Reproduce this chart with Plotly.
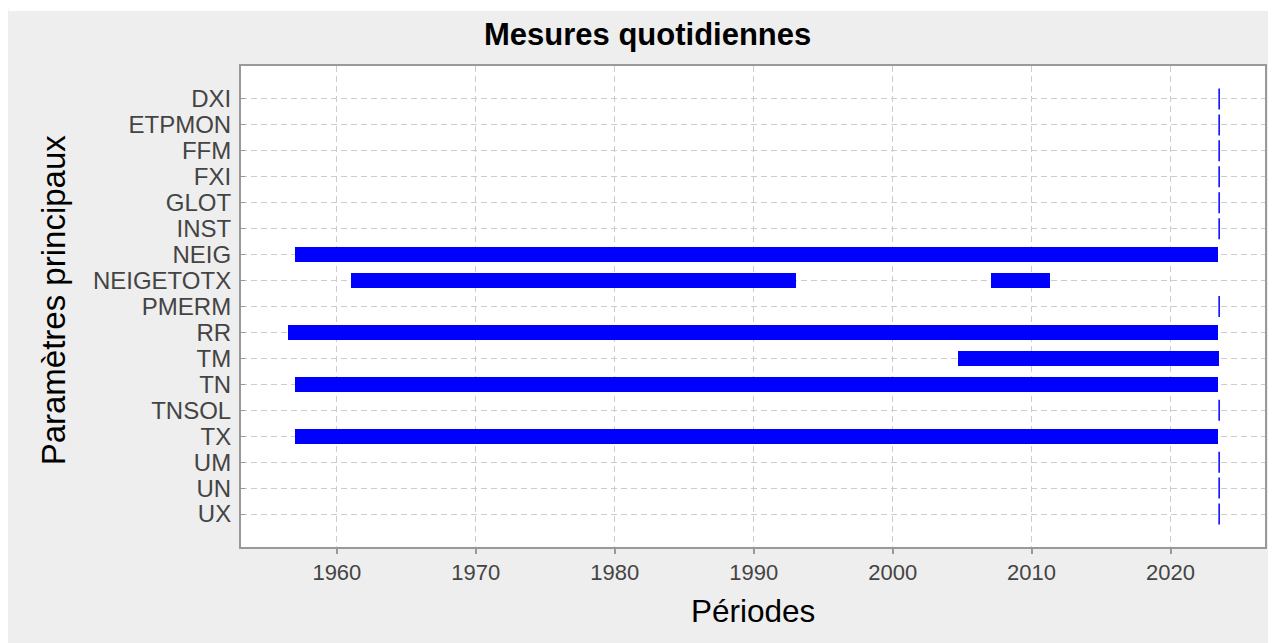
import plotly.graph_objects as go

# ---- data ----
params = ["DXI", "ETPMON", "FFM", "FXI", "GLOT", "INST", "NEIG", "NEIGETOTX",
          "PMERM", "RR", "TM", "TN", "TNSOL", "TX", "UM", "UN", "UX"]

seg_param = ["NEIG", "NEIGETOTX", "NEIGETOTX", "RR", "TM", "TN", "TX"]
seg_start = [1957.0, 1961.0, 2007.05, 1956.5, 2004.7, 1957.0, 1957.0]
seg_end = [2023.45, 1993.05, 2011.3, 2023.45, 2023.5, 2023.45, 2023.45]

point_param = ["DXI", "ETPMON", "FFM", "FXI", "GLOT", "INST", "PMERM",
               "TNSOL", "UM", "UN", "UX"]
point_date = [2023.5] * len(point_param)

x_ticks = [1960, 1970, 1980, 1990, 2000, 2010, 2020]

title_text = "Mesures quotidiennes"
x_title = "Périodes"
y_title = "Paramètres principaux"

# ---- figure (page has an 8px body margin) ----
W, H = 1268, 635
L, R, T, B = 233, 1259, 58, 539
pw, ph = R - L, B - T

def px(x):
    return (x - L) / pw

def py(y):
    return (B - y) / ph

fig = go.Figure()

fig.add_trace(go.Bar(
    orientation="h",
    y=seg_param,
    x=[e - s for s, e in zip(seg_start, seg_end)],
    base=seg_start,
    width=0.58,
    marker=dict(color="#0000ff", line=dict(width=0)),
    hoverinfo="skip",
    showlegend=False,
))

fig.add_trace(go.Scatter(
    x=point_date,
    y=point_param,
    mode="markers",
    marker=dict(symbol="line-ns", size=15, line=dict(color="#0000ff", width=1.5)),
    hoverinfo="skip",
    showlegend=False,
))

font_family = "Liberation Sans, Arial, sans-serif"

fig.update_layout(
    width=W, height=H,
    margin=dict(l=L, r=W - R, t=T, b=H - B, pad=0),
    paper_bgcolor="#eeeeee",
    plot_bgcolor="#ffffff",
    font=dict(family=font_family, color="#444444", size=22),
    bargap=0,
    xaxis=dict(
        range=[1953.1, 2026.8],
        tickvals=x_ticks,
        ticktext=[str(v) for v in x_ticks],
        showgrid=True,
        gridcolor="#cccccc",
        gridwidth=1,
        griddash="6px,4px",
        zeroline=False,
        showline=True, mirror=True, linecolor="#999999", linewidth=2,
        ticks="outside", ticklen=5, tickcolor="#999999", tickwidth=2,
        tickfont=dict(size=22, color="#444444"),
    ),
    yaxis=dict(
        type="category",
        categoryorder="array",
        categoryarray=params,
        range=[len(params) - 1 + 1.27, -1.27],
        tickvals=params,
        ticktext=params,
        showgrid=True,
        gridcolor="#cccccc",
        gridwidth=1,
        griddash="6px,4px",
        zeroline=False,
        showline=True, mirror=True, linecolor="#999999", linewidth=2,
        ticks="inside", ticklen=4, tickcolor="#999999", tickwidth=1,
        ticklabelstandoff=3,
        tickfont=dict(size=24, color="#444444"),
    ),
    annotations=[
        dict(text="<b>" + title_text + "</b>", x=px(640), y=py(27),
             xref="paper", yref="paper", xanchor="center", yanchor="middle",
             showarrow=False, font=dict(size=31, color="#000000", family=font_family)),
        dict(text=x_title, x=0.5, y=py(603),
             xref="paper", yref="paper", xanchor="center", yanchor="middle",
             showarrow=False, font=dict(size=31.5, color="#000000", family=font_family)),
        dict(text=y_title, x=px(45), y=py(292), textangle=-90,
             xref="paper", yref="paper", xanchor="center", yanchor="middle",
             showarrow=False, font=dict(size=33, color="#000000", family=font_family)),
    ],
    shapes=[
        dict(type="rect", xref="paper", yref="paper",
             x0=px(0), x1=px(W), y0=py(3), y1=py(0),
             fillcolor="#ffffff", line=dict(width=0), layer="above"),
    ],
)

fig.write_html("out.html")
